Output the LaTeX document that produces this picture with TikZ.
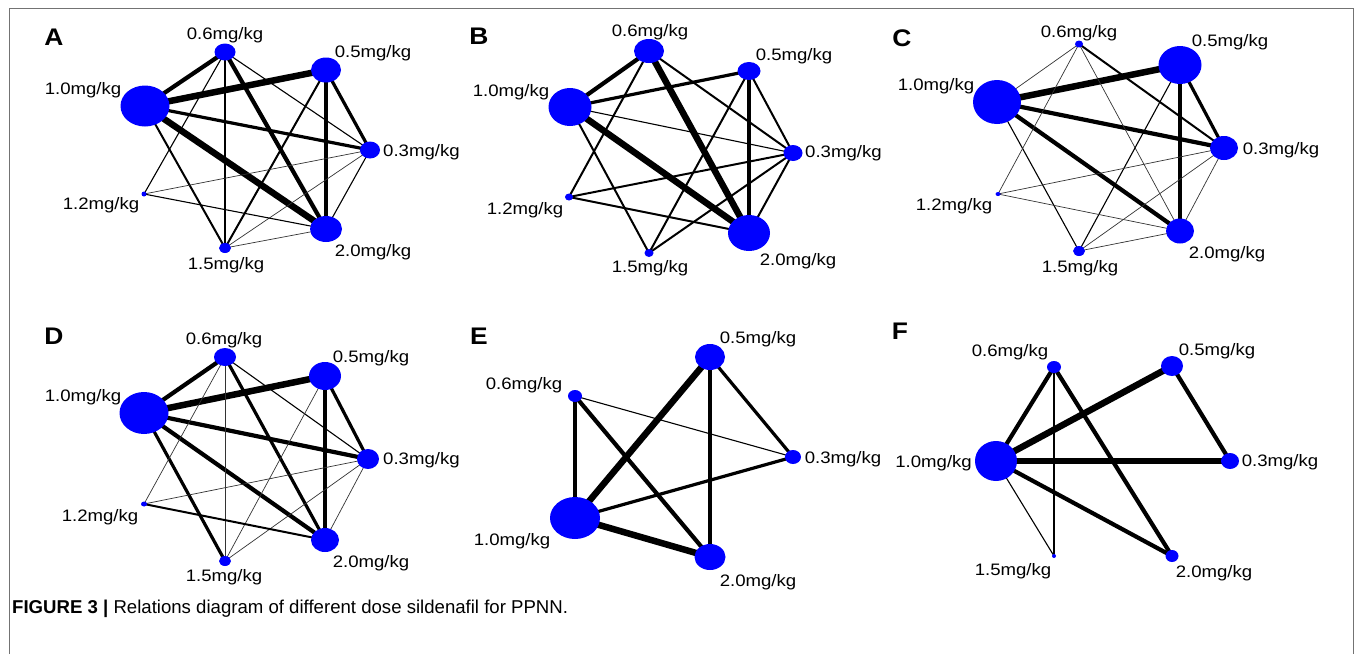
\documentclass[tikz,border=0pt]{standalone}
\usepackage{fontspec}
\setmainfont{Liberation Sans}
\usetikzlibrary{shapes.geometric}
\pgfdeclarelayer{bg}
\pgfsetlayers{bg,main}
\newcommand{\lbl}[1]{\scalebox{1.12}[1]{\fontsize{16.6}{18}\selectfont #1}}
\newcommand{\plet}[1]{\scalebox{1.1}[1]{\fontsize{24}{26}\selectfont\bfseries #1}}
\newcommand{\dn}[5]{\node[dot,minimum width=#4pt,minimum height=#5pt] (#1) at (#2,#3) {};}
\begin{document}
\begin{tikzpicture}[x=1pt,y=-1pt,
  dot/.style={ellipse,fill=blue,draw=none,inner sep=0pt},
  lab/.style={inner sep=0pt,text=black},
  frame/.style={draw=black!55,line width=1.4pt},
  e1/.style={draw=black!80,line width=0.7pt},
  e2/.style={draw=black,line width=1.1pt},
  e3/.style={draw=black,line width=2pt},
  e4/.style={draw=black,line width=3.2pt},
  e5/.style={draw=black,line width=4.2pt},
  e6/.style={draw=black,line width=6.5pt}]
\useasboundingbox (0,0) rectangle (1355,654);
\coordinate (fbl) at (9.5,654);
\coordinate (ftl) at (9.5,8.5);
\coordinate (ftr) at (1353.5,8.5);
\coordinate (fbr) at (1353.5,654);
\draw[frame] (fbl) -- (ftl) -- (ftr) -- (fbr);

% ---------------- Panel A
\dn{a10}{145}{106}{49}{41}
\dn{a06}{225}{52}{21}{17}
\dn{a05}{326}{70}{30}{25}
\dn{a03}{370}{150}{20}{17}
\dn{a12}{144}{194}{5}{5}
\dn{a15}{225}{248}{12}{10}
\dn{a20}{326}{229}{32}{26}
\node[lab] (tA) at (54,37) {\plet{A}};
\node[lab] (la06) at (225,35) {\lbl{0.6mg/kg}};
\node[lab] (la05) at (373,53) {\lbl{0.5mg/kg}};
\node[lab] (la10) at (83,90) {\lbl{1.0mg/kg}};
\node[lab,anchor=west] (la03) at (383,152) {\lbl{0.3mg/kg}};
\node[lab] (la12) at (101,205) {\lbl{1.2mg/kg}};
\node[lab] (la15) at (226,265) {\lbl{1.5mg/kg}};
\node[lab] (la20) at (373,252) {\lbl{2.0mg/kg}};
\begin{pgfonlayer}{bg}
\draw[e5] (a10.center) -- (a06.center);
\draw[e6] (a10.center) -- (a05.center);
\draw[e4] (a10.center) -- (a03.center);
\draw[e6] (a10.center) -- (a20.center);
\draw[e3] (a10.center) -- (a15.center);
\draw[e2] (a06.center) -- (a12.center);
\draw[e2] (a06.center) -- (a15.center);
\draw[e5] (a06.center) -- (a20.center);
\draw[e2] (a06.center) -- (a03.center);
\draw[e4] (a05.center) -- (a03.center);
\draw[e4] (a05.center) -- (a20.center);
\draw[e3] (a05.center) -- (a15.center);
\draw[e1] (a03.center) -- (a15.center);
\draw[e2] (a03.center) -- (a20.center);
\draw[e1] (a03.center) -- (a12.center);
\draw[e2] (a12.center) -- (a20.center);
\draw[e1] (a15.center) -- (a20.center);
\end{pgfonlayer}

% ---------------- Panel B
\dn{b10}{570}{107}{43}{38}
\dn{b06}{649}{51}{30}{24}
\dn{b05}{749}{71}{23}{18}
\dn{b03}{793}{153}{19}{16}
\dn{b12}{569}{197}{8}{7}
\dn{b15}{649}{253}{9}{8}
\dn{b20}{749}{233}{42}{36}
\node[lab] (tB) at (479,36) {\plet{B}};
\node[lab] (lb06) at (650,32) {\lbl{0.6mg/kg}};
\node[lab] (lb05) at (794,56) {\lbl{0.5mg/kg}};
\node[lab] (lb10) at (511,92) {\lbl{1.0mg/kg}};
\node[lab,anchor=west] (lb03) at (805,153) {\lbl{0.3mg/kg}};
\node[lab] (lb12) at (525,210) {\lbl{1.2mg/kg}};
\node[lab] (lb15) at (650,268) {\lbl{1.5mg/kg}};
\node[lab] (lb20) at (798,261) {\lbl{2.0mg/kg}};
\begin{pgfonlayer}{bg}
\draw[e5] (b10.center) -- (b06.center);
\draw[e4] (b10.center) -- (b05.center);
\draw[e2] (b10.center) -- (b03.center);
\draw[e6] (b10.center) -- (b20.center);
\draw[e3] (b10.center) -- (b15.center);
\draw[e3] (b06.center) -- (b12.center);
\draw[e6] (b06.center) -- (b20.center);
\draw[e3] (b06.center) -- (b03.center);
\draw[e4] (b05.center) -- (b20.center);
\draw[e3] (b05.center) -- (b03.center);
\draw[e3] (b05.center) -- (b15.center);
\draw[e3] (b03.center) -- (b12.center);
\draw[e3] (b03.center) -- (b15.center);
\draw[e3] (b03.center) -- (b20.center);
\draw[e3] (b12.center) -- (b20.center);
\end{pgfonlayer}

% ---------------- Panel C
\dn{c10}{997}{102}{48}{44}
\dn{c06}{1079}{44}{8}{7}
\dn{c05}{1180}{65}{43}{38}
\dn{c03}{1224}{148}{28}{24}
\dn{c12}{998}{194}{5}{4}
\dn{c15}{1079}{251}{12}{10}
\dn{c20}{1180}{231}{28}{25}
\node[lab] (tC) at (902,38) {\plet{C}};
\node[lab] (lc06) at (1079,33) {\lbl{0.6mg/kg}};
\node[lab] (lc05) at (1230,42) {\lbl{0.5mg/kg}};
\node[lab] (lc10) at (936,86) {\lbl{1.0mg/kg}};
\node[lab] (lc03) at (1281,150) {\lbl{0.3mg/kg}};
\node[lab] (lc12) at (954,206) {\lbl{1.2mg/kg}};
\node[lab] (lc15) at (1080,268) {\lbl{1.5mg/kg}};
\node[lab] (lc20) at (1227,254) {\lbl{2.0mg/kg}};
\begin{pgfonlayer}{bg}
\draw[e1] (c10.center) -- (c06.center);
\draw[e6] (c10.center) -- (c05.center);
\draw[e5] (c10.center) -- (c03.center);
\draw[e5] (c10.center) -- (c20.center);
\draw[e2] (c10.center) -- (c15.center);
\draw[e1] (c06.center) -- (c12.center);
\draw[e3] (c06.center) -- (c03.center);
\draw[e1] (c06.center) -- (c20.center);
\draw[e4] (c05.center) -- (c03.center);
\draw[e5] (c05.center) -- (c20.center);
\draw[e2] (c05.center) -- (c15.center);
\draw[e1] (c03.center) -- (c12.center);
\draw[e1] (c03.center) -- (c15.center);
\draw[e1] (c03.center) -- (c20.center);
\draw[e1] (c12.center) -- (c20.center);
\draw[e1] (c15.center) -- (c20.center);
\end{pgfonlayer}

% ---------------- Panel D
\dn{d10}{144}{413}{49}{42}
\dn{d06}{225}{357}{22}{18}
\dn{d05}{325}{376}{32}{28}
\dn{d03}{368}{459}{22}{20}
\dn{d12}{144}{504}{6}{5}
\dn{d15}{225}{561}{12}{10}
\dn{d20}{325}{540}{28}{24}
\node[lab] (tD) at (54,336) {\plet{D}};
\node[lab] (ld06) at (224,340) {\lbl{0.6mg/kg}};
\node[lab] (ld05) at (371,358) {\lbl{0.5mg/kg}};
\node[lab] (ld10) at (83,397) {\lbl{1.0mg/kg}};
\node[lab,anchor=west] (ld03) at (383,460) {\lbl{0.3mg/kg}};
\node[lab] (ld12) at (100,517) {\lbl{1.2mg/kg}};
\node[lab] (ld15) at (224,577) {\lbl{1.5mg/kg}};
\node[lab] (ld20) at (371,563) {\lbl{2.0mg/kg}};
\begin{pgfonlayer}{bg}
\draw[e5] (d10.center) -- (d06.center);
\draw[e6] (d10.center) -- (d05.center);
\draw[e5] (d10.center) -- (d03.center);
\draw[e5] (d10.center) -- (d20.center);
\draw[e4] (d10.center) -- (d15.center);
\draw[e1] (d06.center) -- (d12.center);
\draw[e1] (d06.center) -- (d15.center);
\draw[e4] (d06.center) -- (d20.center);
\draw[e2] (d06.center) -- (d03.center);
\draw[e4] (d05.center) -- (d03.center);
\draw[e4] (d05.center) -- (d20.center);
\draw[e1] (d05.center) -- (d15.center);
\draw[e1] (d03.center) -- (d12.center);
\draw[e1] (d03.center) -- (d20.center);
\draw[e1] (d03.center) -- (d15.center);
\draw[e3] (d12.center) -- (d20.center);
\end{pgfonlayer}

% ---------------- Panel E
\dn{e10}{575}{518}{50}{42}
\dn{e06}{575}{396}{14}{12}
\dn{e05}{710}{357}{30}{26}
\dn{e03}{793}{457}{16}{14}
\dn{e20}{710}{557}{31}{26}
\node[lab] (tE) at (479,336) {\plet{E}};
\node[lab] (le05) at (758,339) {\lbl{0.5mg/kg}};
\node[lab] (le06) at (524,385) {\lbl{0.6mg/kg}};
\node[lab] (le03) at (843,459) {\lbl{0.3mg/kg}};
\node[lab] (le10) at (512,541) {\lbl{1.0mg/kg}};
\node[lab] (le20) at (758,582) {\lbl{2.0mg/kg}};
\begin{pgfonlayer}{bg}
\draw[e5] (e10.center) -- (e06.center);
\draw[e6] (e10.center) -- (e05.center);
\draw[e4] (e10.center) -- (e03.center);
\draw[e6] (e10.center) -- (e20.center);
\draw[e5] (e06.center) -- (e20.center);
\draw[e2] (e06.center) -- (e03.center);
\draw[e4] (e05.center) -- (e03.center);
\draw[e4] (e05.center) -- (e20.center);
\end{pgfonlayer}

% ---------------- Panel F
\dn{f10}{996}{461}{42}{40}
\dn{f06}{1054}{367}{14}{12}
\dn{f05}{1172}{366}{22}{20}
\dn{f03}{1230}{461}{18}{16}
\dn{f15}{1054}{556}{4}{4}
\dn{f20}{1172}{556}{13}{12}
\node[lab] (tF) at (900,331) {\plet{F}};
\node[lab] (lf06) at (1010,352) {\lbl{0.6mg/kg}};
\node[lab] (lf05) at (1217,351) {\lbl{0.5mg/kg}};
\node[lab,anchor=east] (lf10) at (972,463) {\lbl{1.0mg/kg}};
\node[lab] (lf03) at (1280,462) {\lbl{0.3mg/kg}};
\node[lab] (lf15) at (1013,571) {\lbl{1.5mg/kg}};
\node[lab] (lf20) at (1214,573) {\lbl{2.0mg/kg}};
\begin{pgfonlayer}{bg}
\draw[e5] (f10.center) -- (f06.center);
\draw[e6] (f10.center) -- (f05.center);
\draw[e6] (f10.center) -- (f03.center);
\draw[e5] (f10.center) -- (f20.center);
\draw[e2] (f10.center) -- (f15.center);
\draw[e2] (f06.center) -- (f15.center);
\draw[e5] (f06.center) -- (f20.center);
\draw[e5] (f05.center) -- (f03.center);
\end{pgfonlayer}

% ---------------- Caption
\node[lab,anchor=west] (cap) at (12,609) {\fontsize{18.6}{21}\selectfont\textbf{FIGURE 3 |} Relations diagram of different dose sildenafil for PPNN.};
\end{tikzpicture}
\end{document}
